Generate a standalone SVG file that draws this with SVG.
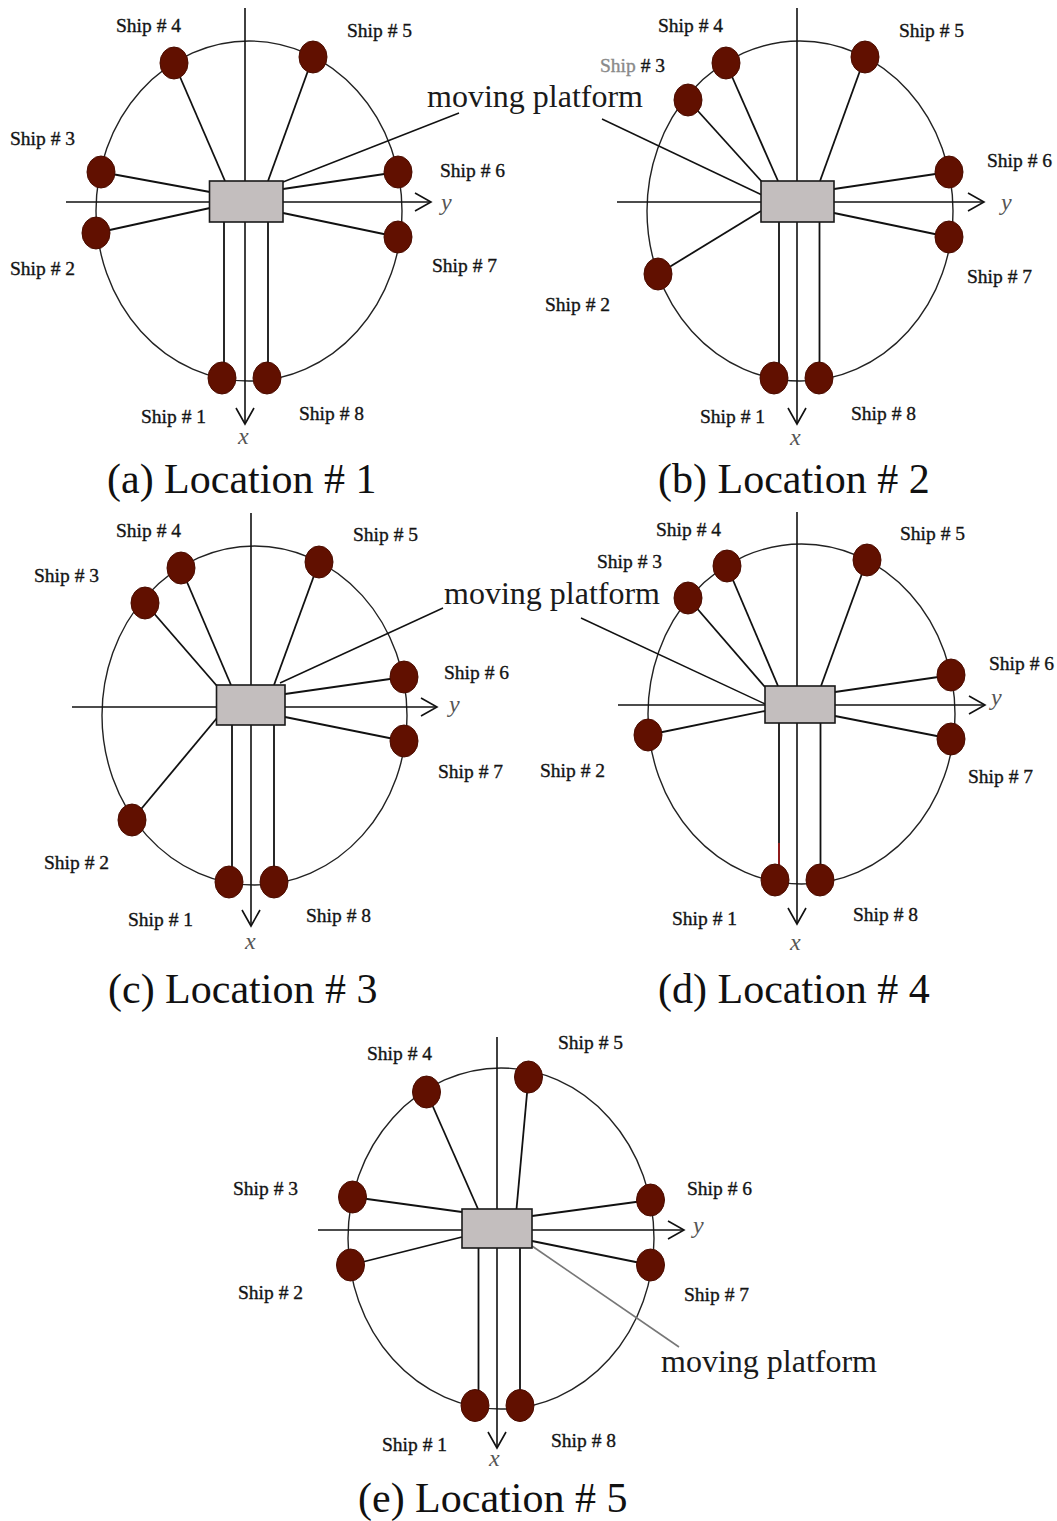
<svg xmlns="http://www.w3.org/2000/svg" width="1057" height="1521" viewBox="0 0 1057 1521">
<style>
.bg{fill:#ffffff}
.orbit{fill:none;stroke:#222;stroke-width:1.4}
.axis{fill:none;stroke:#111;stroke-width:1.6;marker-end:url(#arr)}
.link{fill:none;stroke:#111;stroke-width:1.8}
.ptr{fill:none;stroke:#111;stroke-width:1.4}
.plat{fill:#c3bebe;stroke:#1a1a1a;stroke-width:1.6}
.ship{fill:#611000;stroke:#4a0c00;stroke-width:1}
.lbl{font-family:"Liberation Serif","Times New Roman",serif;font-size:19.5px;fill:#141414;stroke:#141414;stroke-width:0.35}
.ax{font-family:"Liberation Serif","Times New Roman",serif;font-size:24px;font-style:italic;fill:#555}
.mp{font-family:"Liberation Serif","Times New Roman",serif;font-size:32px;fill:#1a1a1a}
.cap{font-family:"Liberation Serif","Times New Roman",serif;font-size:42px;fill:#111}
</style>
<defs>
<marker id="arr" markerUnits="userSpaceOnUse" markerWidth="20" markerHeight="22" viewBox="0 0 20 22" refX="17" refY="10" orient="auto">
<path d="M1,1 L17,10 L1,19" fill="none" stroke="#111" stroke-width="1.6"/>
</marker>
</defs>
<rect class="bg" x="0" y="0" width="1057" height="1521"/>

<!-- ============ Panel (a) ============ -->
<g id="panel-a">
<ellipse class="orbit" cx="249" cy="211" rx="153" ry="170"/>
<line class="axis" x1="245" y1="8" x2="245" y2="424"/>
<line class="axis" x1="66" y1="202" x2="431" y2="202"/>
<text class="ax" x="441" y="210">y</text>
<text class="ax" x="238" y="444">x</text>
</g>
<g id="connectors-a">
<line class="link" x1="174" y1="63" x2="225" y2="181"/>
<line class="link" x1="313" y1="57" x2="268" y2="181"/>
<line class="link" x1="101" y1="172" x2="210" y2="192"/>
<line class="link" x1="96" y1="233" x2="210" y2="208"/>
<line class="link" x1="398" y1="172" x2="283" y2="189"/>
<line class="link" x1="398" y1="237" x2="283" y2="213"/>
<line class="link" x1="224" y1="222" x2="224" y2="375"/>
<line class="link" x1="268" y1="222" x2="268" y2="375"/>
<line class="ptr" x1="283" y1="182" x2="459" y2="113"/>
</g>
<g id="platform-a"><rect class="plat" x="209.5" y="181" width="73.5" height="41"/></g>
<g id="a-ship4"><ellipse class="ship" cx="174" cy="63" rx="14" ry="16"/><text class="lbl" x="116" y="32">Ship # 4</text></g>
<g id="a-ship5"><ellipse class="ship" cx="313" cy="57" rx="14" ry="16"/><text class="lbl" x="347" y="37">Ship # 5</text></g>
<g id="a-ship3"><ellipse class="ship" cx="101" cy="172" rx="14" ry="16"/><text class="lbl" x="10" y="145">Ship # 3</text></g>
<g id="a-ship2"><ellipse class="ship" cx="96" cy="233" rx="14" ry="16"/><text class="lbl" x="10" y="275">Ship # 2</text></g>
<g id="a-ship6"><ellipse class="ship" cx="398" cy="172" rx="14" ry="16"/><text class="lbl" x="440" y="177">Ship # 6</text></g>
<g id="a-ship7"><ellipse class="ship" cx="398" cy="237" rx="14" ry="16"/><text class="lbl" x="432" y="272">Ship # 7</text></g>
<g id="a-ship1"><ellipse class="ship" cx="222" cy="378" rx="14" ry="16"/><text class="lbl" x="141" y="423">Ship # 1</text></g>
<g id="a-ship8"><ellipse class="ship" cx="267" cy="378" rx="14" ry="16"/><text class="lbl" x="299" y="420">Ship # 8</text></g>

<!-- ============ Panel (b) ============ -->
<g id="panel-b">
<ellipse class="orbit" cx="800" cy="211" rx="153" ry="170"/>
<line class="axis" x1="797" y1="8" x2="797" y2="424"/>
<line class="axis" x1="617" y1="202" x2="984" y2="202"/>
<text class="ax" x="1001" y="210">y</text>
<text class="ax" x="790" y="445">x</text>
</g>
<g id="connectors-b">
<line class="link" x1="726" y1="63" x2="778" y2="181"/>
<line class="link" x1="688" y1="100" x2="763" y2="183"/>
<line class="link" x1="865" y1="57" x2="820" y2="181"/>
<line class="link" x1="658" y1="274" x2="761" y2="211"/>
<line class="link" x1="949" y1="172" x2="834" y2="189"/>
<line class="link" x1="949" y1="237" x2="834" y2="213"/>
<line class="link" x1="779" y1="222" x2="779" y2="375"/>
<line class="link" x1="819.5" y1="222" x2="819.5" y2="375"/>
<line class="ptr" x1="602" y1="119" x2="762" y2="195"/>
</g>
<g id="platform-b"><rect class="plat" x="761" y="181" width="73" height="41"/></g>
<g id="b-ship4"><ellipse class="ship" cx="726" cy="63" rx="14" ry="16"/><text class="lbl" x="658" y="32">Ship # 4</text></g>
<g id="b-ship5"><ellipse class="ship" cx="865" cy="57" rx="14" ry="16"/><text class="lbl" x="899" y="37">Ship # 5</text></g>
<g id="b-ship3"><ellipse class="ship" cx="688" cy="100" rx="14" ry="16"/><text class="lbl" x="600" y="72"><tspan fill="#8a8a8a" stroke="#8a8a8a">Ship</tspan> # 3</text></g>
<g id="b-ship2"><ellipse class="ship" cx="658" cy="274" rx="14" ry="16"/><text class="lbl" x="545" y="311">Ship # 2</text></g>
<g id="b-ship6"><ellipse class="ship" cx="949" cy="172" rx="14" ry="16"/><text class="lbl" x="987" y="167">Ship # 6</text></g>
<g id="b-ship7"><ellipse class="ship" cx="949" cy="237" rx="14" ry="16"/><text class="lbl" x="967" y="283">Ship # 7</text></g>
<g id="b-ship1"><ellipse class="ship" cx="774" cy="378" rx="14" ry="16"/><text class="lbl" x="700" y="423">Ship # 1</text></g>
<g id="b-ship8"><ellipse class="ship" cx="819" cy="378" rx="14" ry="16"/><text class="lbl" x="851" y="420">Ship # 8</text></g>

<text class="mp" x="427" y="107">moving platform</text>

<!-- ============ Panel (c) ============ -->
<g id="panel-c">
<ellipse class="orbit" cx="254.5" cy="715.5" rx="152.5" ry="169.5"/>
<line class="axis" x1="251" y1="513" x2="251" y2="926"/>
<line class="axis" x1="72" y1="707" x2="437" y2="707"/>
<text class="ax" x="449" y="712">y</text>
<text class="ax" x="245" y="949">x</text>
</g>
<g id="connectors-c">
<line class="link" x1="181" y1="568" x2="231" y2="685"/>
<line class="link" x1="145" y1="603" x2="217" y2="686"/>
<line class="link" x1="319" y1="562" x2="274" y2="685"/>
<line class="link" x1="132" y1="820" x2="217" y2="718"/>
<line class="link" x1="404" y1="677" x2="285" y2="694"/>
<line class="link" x1="404" y1="741" x2="285" y2="717"/>
<line class="link" x1="232" y1="725" x2="232" y2="879"/>
<line class="link" x1="274" y1="725" x2="274" y2="879"/>
<line class="ptr" x1="280" y1="683" x2="443" y2="608"/>
</g>
<g id="platform-c"><rect class="plat" x="216.5" y="685" width="68.5" height="40"/></g>
<g id="c-ship4"><ellipse class="ship" cx="181" cy="568" rx="14" ry="16"/><text class="lbl" x="116" y="537">Ship # 4</text></g>
<g id="c-ship5"><ellipse class="ship" cx="319" cy="562" rx="14" ry="16"/><text class="lbl" x="353" y="541">Ship # 5</text></g>
<g id="c-ship3"><ellipse class="ship" cx="145" cy="603" rx="14" ry="16"/><text class="lbl" x="34" y="582">Ship # 3</text></g>
<g id="c-ship2"><ellipse class="ship" cx="132" cy="820" rx="14" ry="16"/><text class="lbl" x="44" y="869">Ship # 2</text></g>
<g id="c-ship6"><ellipse class="ship" cx="404" cy="677" rx="14" ry="16"/><text class="lbl" x="444" y="679">Ship # 6</text></g>
<g id="c-ship7"><ellipse class="ship" cx="404" cy="741" rx="14" ry="16"/><text class="lbl" x="438" y="778">Ship # 7</text></g>
<g id="c-ship1"><ellipse class="ship" cx="229" cy="882" rx="14" ry="16"/><text class="lbl" x="128" y="926">Ship # 1</text></g>
<g id="c-ship8"><ellipse class="ship" cx="274" cy="882" rx="14" ry="16"/><text class="lbl" x="306" y="922">Ship # 8</text></g>

<!-- ============ Panel (d) ============ -->
<g id="panel-d">
<ellipse class="orbit" cx="801.5" cy="714" rx="153.5" ry="170"/>
<line class="axis" x1="797" y1="512" x2="797" y2="924"/>
<line class="axis" x1="618" y1="705" x2="985" y2="705"/>
<text class="ax" x="991" y="705">y</text>
<text class="ax" x="790" y="950">x</text>
</g>
<g id="connectors-d">
<line class="link" x1="727" y1="566" x2="778" y2="686"/>
<line class="link" x1="688" y1="598" x2="765" y2="687"/>
<line class="link" x1="867" y1="560" x2="821" y2="686"/>
<line class="link" x1="648" y1="735" x2="765" y2="711"/>
<line class="link" x1="952" y1="675" x2="835" y2="692"/>
<line class="link" x1="952" y1="739" x2="835" y2="716"/>
<line class="link" x1="779" y1="723" x2="779" y2="877"/>
<line x1="779" y1="843" x2="779" y2="866" stroke="#9a1a1a" stroke-width="1.8"/>
<line class="link" x1="820.5" y1="723" x2="820.5" y2="877"/>
<line class="ptr" x1="581" y1="618" x2="765" y2="704"/>
</g>
<g id="platform-d"><rect class="plat" x="765" y="686" width="70" height="37"/></g>
<g id="d-ship4"><ellipse class="ship" cx="727" cy="566" rx="14" ry="16"/><text class="lbl" x="656" y="536">Ship # 4</text></g>
<g id="d-ship5"><ellipse class="ship" cx="867" cy="560" rx="14" ry="16"/><text class="lbl" x="900" y="540">Ship # 5</text></g>
<g id="d-ship3"><ellipse class="ship" cx="688" cy="598" rx="14" ry="16"/><text class="lbl" x="597" y="568">Ship # 3</text></g>
<g id="d-ship2"><ellipse class="ship" cx="648" cy="735" rx="14" ry="16"/><text class="lbl" x="540" y="777">Ship # 2</text></g>
<g id="d-ship6"><ellipse class="ship" cx="951" cy="675" rx="14" ry="16"/><text class="lbl" x="989" y="670">Ship # 6</text></g>
<g id="d-ship7"><ellipse class="ship" cx="951" cy="739" rx="14" ry="16"/><text class="lbl" x="968" y="783">Ship # 7</text></g>
<g id="d-ship1"><ellipse class="ship" cx="775" cy="880" rx="14" ry="16"/><text class="lbl" x="672" y="925">Ship # 1</text></g>
<g id="d-ship8"><ellipse class="ship" cx="820" cy="880" rx="14" ry="16"/><text class="lbl" x="853" y="921">Ship # 8</text></g>

<text class="mp" x="444" y="604">moving platform</text>

<!-- ============ Panel (e) ============ -->
<g id="panel-e">
<ellipse class="orbit" cx="501" cy="1238.5" rx="153" ry="170.5"/>
<line class="axis" x1="497" y1="1037" x2="497" y2="1448"/>
<line class="axis" x1="318" y1="1230" x2="684" y2="1230"/>
<text class="ax" x="693" y="1233">y</text>
<text class="ax" x="489" y="1466">x</text>
</g>
<g id="connectors-e">
<line class="link" x1="426.5" y1="1092" x2="478" y2="1209"/>
<line class="link" x1="528.5" y1="1077" x2="516.5" y2="1209"/>
<line class="link" x1="352.5" y1="1197" x2="462" y2="1212"/>
<line class="link" x1="350.5" y1="1265" x2="462" y2="1237"/>
<line class="link" x1="650.5" y1="1200" x2="532" y2="1216"/>
<line class="link" x1="650.5" y1="1265" x2="532" y2="1241"/>
<line class="link" x1="478.5" y1="1248" x2="478.5" y2="1402"/>
<line class="link" x1="520" y1="1248" x2="520" y2="1402"/>
<line x1="532" y1="1246" x2="679" y2="1347" stroke="#777" stroke-width="1.6"/>
</g>
<g id="platform-e"><rect class="plat" x="462" y="1209" width="70" height="39"/></g>
<g id="e-ship4"><ellipse class="ship" cx="426.5" cy="1092" rx="14" ry="16"/><text class="lbl" x="367" y="1060">Ship # 4</text></g>
<g id="e-ship5"><ellipse class="ship" cx="528.5" cy="1077" rx="14" ry="16"/><text class="lbl" x="558" y="1049">Ship # 5</text></g>
<g id="e-ship3"><ellipse class="ship" cx="352.5" cy="1197" rx="14" ry="16"/><text class="lbl" x="233" y="1195">Ship # 3</text></g>
<g id="e-ship2"><ellipse class="ship" cx="350.5" cy="1265" rx="14" ry="16"/><text class="lbl" x="238" y="1299">Ship # 2</text></g>
<g id="e-ship6"><ellipse class="ship" cx="650.5" cy="1200" rx="14" ry="16"/><text class="lbl" x="687" y="1195">Ship # 6</text></g>
<g id="e-ship7"><ellipse class="ship" cx="650.5" cy="1265" rx="14" ry="16"/><text class="lbl" x="684" y="1301">Ship # 7</text></g>
<g id="e-ship1"><ellipse class="ship" cx="475" cy="1405.5" rx="14" ry="16"/><text class="lbl" x="382" y="1451">Ship # 1</text></g>
<g id="e-ship8"><ellipse class="ship" cx="520" cy="1405.5" rx="14" ry="16"/><text class="lbl" x="551" y="1447">Ship # 8</text></g>

<text class="mp" x="661" y="1372">moving platform</text>

<!-- captions -->
<g id="captions">
<text class="cap" x="107" y="493">(a) Location # 1</text>
<text class="cap" x="658" y="493">(b) Location # 2</text>
<text class="cap" x="108" y="1003">(c) Location # 3</text>
<text class="cap" x="658" y="1003">(d) Location # 4</text>
<text class="cap" x="358" y="1512">(e) Location # 5</text>
</g>
</svg>
